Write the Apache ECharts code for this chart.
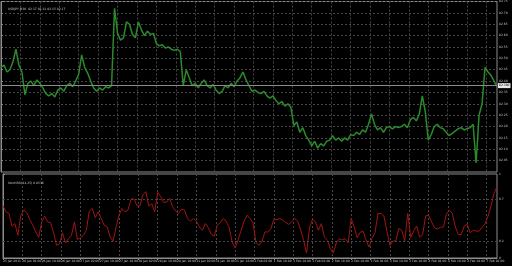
<!DOCTYPE html>
<html><head><meta charset="utf-8">
<script src="https://cdn.jsdelivr.net/npm/echarts@6/dist/echarts.min.js"></script>
<style>html,body{margin:0;padding:0;background:#000;}#c{width:512px;height:266px;}</style>
</head><body><div id="c"></div>
<script>
const timeLabels = ["25 Jan 2011","26 Jan 02:00","26 Jan 10:00","26 Jan 18:00","27 Jan 02:00","27 Jan 10:00","27 Jan 18:00","28 Jan 02:00","28 Jan 10:00","28 Jan 18:00","31 Jan 02:00","31 Jan 10:00","31 Jan 18:00","1 Feb 02:00","1 Feb 10:00","1 Feb 18:00","2 Feb 02:00","2 Feb 10:00","2 Feb 18:00","3 Feb 02:00","3 Feb 10:00","3 Feb 18:00","4 Feb 02:00","4 Feb 10:00","4 Feb 18:00","7 Feb 02:00"];
const BARS_PER_LABEL = 6.5;
const price = [82.46,82.47,82.44,82.45,82.485,82.54,82.47,82.44,82.34,82.39,
 82.40,82.38,82.405,82.39,82.37,82.345,82.335,82.345,82.33,82.36,
 82.37,82.355,82.38,82.39,82.375,82.40,82.43,82.515,82.46,82.435,
 82.40,82.37,82.355,82.37,82.36,82.375,82.37,82.38,82.72,82.61,
 82.58,82.59,82.66,82.65,82.605,82.59,82.66,82.625,82.60,82.62,
 82.605,82.61,82.565,82.555,82.56,82.545,82.55,82.54,82.535,82.54,
 82.53,82.38,82.45,82.415,82.38,82.39,82.37,82.39,82.405,82.38,
 82.37,82.385,82.36,82.345,82.355,82.38,82.37,82.39,82.375,82.40,
 82.415,82.44,82.405,82.38,82.355,82.36,82.35,82.345,82.355,82.335,
 82.325,82.335,82.315,82.30,82.31,82.29,82.30,82.285,82.205,82.22,
 82.175,82.195,82.16,82.14,82.115,82.135,82.105,82.125,82.115,82.135,
 82.14,82.16,82.14,82.15,82.135,82.15,82.14,82.165,82.16,82.175,
 82.165,82.185,82.175,82.21,82.255,82.21,82.185,82.195,82.175,82.195,
 82.20,82.19,82.20,82.195,82.20,82.21,82.195,82.23,82.24,82.225,
 82.255,82.335,82.265,82.14,82.165,82.20,82.21,82.195,82.19,82.175,
 82.16,82.17,82.18,82.19,82.195,82.185,82.19,82.195,82.21,82.04,
 82.25,82.30,82.46,82.44,82.425,82.40,82.375];
const stochRsi = [0.62,0.55,0.53,0.38,0.41,0.27,0.51,0.57,0.54,0.46,
 0.39,0.31,0.245,0.43,0.50,0.43,0.42,0.30,0.15,0.17,
 0.30,0.18,0.23,0.27,0.43,0.22,0.24,0.27,0.33,0.56,
 0.59,0.48,0.55,0.47,0.39,0.37,0.25,0.20,0.37,0.51,
 0.59,0.55,0.57,0.70,0.705,0.625,0.62,0.75,0.79,0.62,
 0.645,0.55,0.78,0.73,0.66,0.665,0.71,0.61,0.56,0.53,
 0.58,0.57,0.47,0.44,0.47,0.44,0.37,0.33,0.41,0.36,
 0.28,0.26,0.39,0.42,0.47,0.44,0.36,0.19,0.12,0.215,
 0.33,0.44,0.51,0.47,0.42,0.19,0.15,0.19,0.31,0.31,
 0.345,0.46,0.455,0.47,0.45,0.42,0.40,0.43,0.47,0.44,
 0.34,0.21,0.06,0.36,0.46,0.43,0.33,0.41,0.25,0.21,
 0.11,0.06,0.18,0.23,0.215,0.23,0.18,0.47,0.37,0.24,
 0.305,0.32,0.215,0.13,0.235,0.30,0.53,0.53,0.50,0.32,
 0.15,0.20,0.205,0.35,0.33,0.20,0.53,0.245,0.32,0.38,
 0.25,0.275,0.50,0.51,0.43,0.36,0.345,0.365,0.37,0.52,
 0.57,0.53,0.37,0.28,0.28,0.38,0.40,0.30,0.33,0.32,
 0.32,0.365,0.41,0.50,0.625,0.77,0.85];
const priceAxis = {min: 82.00, max: 82.75, step: 0.05};
const stochTicks = [0, 0.2, 0.7, 1];
const stochLevels = [0.2, 0.7];
const headerText = "USDJPY,M30  82.17 82.21 82.15 82.17";
const stochText = "StochRSI(14,25) 0.8536";

const gridCol = '#474747';
const axisCol = '#8c8c8c';
const txtCol = '#c8c8c8';
const FONT = 'DejaVu Sans';
const lastBar = price.length - 1;

const chart = echarts.init(document.getElementById('c'), null, {renderer:'canvas'});
const xBase = {
  type:'value', min:0, max:lastBar, interval:BARS_PER_LABEL,
  splitLine:{show:true, lineStyle:{color:gridCol, type:[2,2], width:1}}
};
chart.setOption({
  animation:false,
  backgroundColor:'#000',
  title:[
    {text:headerText, left:3, top:3, textStyle:{fontSize:3, color:txtCol, fontWeight:'normal', fontFamily:FONT}},
    {text:stochText, left:3, top:177, textStyle:{fontSize:3, color:txtCol, fontWeight:'normal', fontFamily:FONT}}
  ],
  grid:[
    {left:1, right:15, top:1, height:171, show:true, borderColor:axisCol, borderWidth:1},
    {left:1, right:15, top:174, height:84, show:true, borderColor:axisCol, borderWidth:1}
  ],
  xAxis:[
    Object.assign({gridIndex:0, axisLine:{show:false}, axisTick:{show:false}, axisLabel:{show:false}}, xBase),
    Object.assign({gridIndex:1,
      axisLine:{show:true, lineStyle:{color:axisCol}},
      axisTick:{show:true, length:2, lineStyle:{color:axisCol}},
      axisLabel:{show:true, fontSize:3, color:txtCol, fontFamily:FONT, align:'left', margin:2,
        showMaxLabel:false,
        formatter:v => timeLabels[Math.round(v / BARS_PER_LABEL)] || ''}
    }, xBase)
  ],
  yAxis:[
    {gridIndex:0, type:'value', position:'right', min:priceAxis.min, max:priceAxis.max, interval:priceAxis.step,
      axisLine:{show:true, lineStyle:{color:axisCol}},
      axisTick:{show:true, length:2, lineStyle:{color:axisCol}},
      axisLabel:{fontSize:3, color:txtCol, fontFamily:FONT, margin:2, showMinLabel:false, formatter:v => v.toFixed(2)},
      splitLine:{show:true, lineStyle:{color:gridCol, type:[2,2], width:1}}
    },
    {gridIndex:1, type:'value', position:'right', min:0, max:1,
      axisLine:{show:true, lineStyle:{color:axisCol}},
      axisTick:{show:true, length:2, lineStyle:{color:axisCol}, customValues:stochTicks},
      axisLabel:{fontSize:3, color:txtCol, fontFamily:FONT, margin:2, customValues:stochTicks, formatter:v => String(v)},
      splitLine:{show:false}
    }
  ],
  series:[
    {type:'line', xAxisIndex:0, yAxisIndex:0, data:price.map((v,i)=>[i,v]),
      symbol:'none', lineStyle:{color:'#2b8a2b', width:1.5},
      markLine:{silent:true, symbol:'none', animation:false,
        lineStyle:{color:'#8a8a8a', type:'solid', width:1},
        label:{show:true, position:'end', distance:1, fontSize:3, color:'#000', backgroundColor:'#e6e6e6', padding:[1,1], fontFamily:FONT,
          formatter:p => p.value.toFixed(3)},
        data:[{yAxis:price[lastBar]}]}
    },
    {type:'line', xAxisIndex:1, yAxisIndex:1, data:stochRsi.map((v,i)=>[i,v]),
      symbol:'none', lineStyle:{color:'#a01414', width:1},
      markLine:{silent:true, symbol:'none', animation:false,
        lineStyle:{color:gridCol, type:[2,2], width:1},
        label:{show:false},
        data:stochLevels.map(v => ({yAxis:v}))}
    }
  ]
});
</script></body></html>
